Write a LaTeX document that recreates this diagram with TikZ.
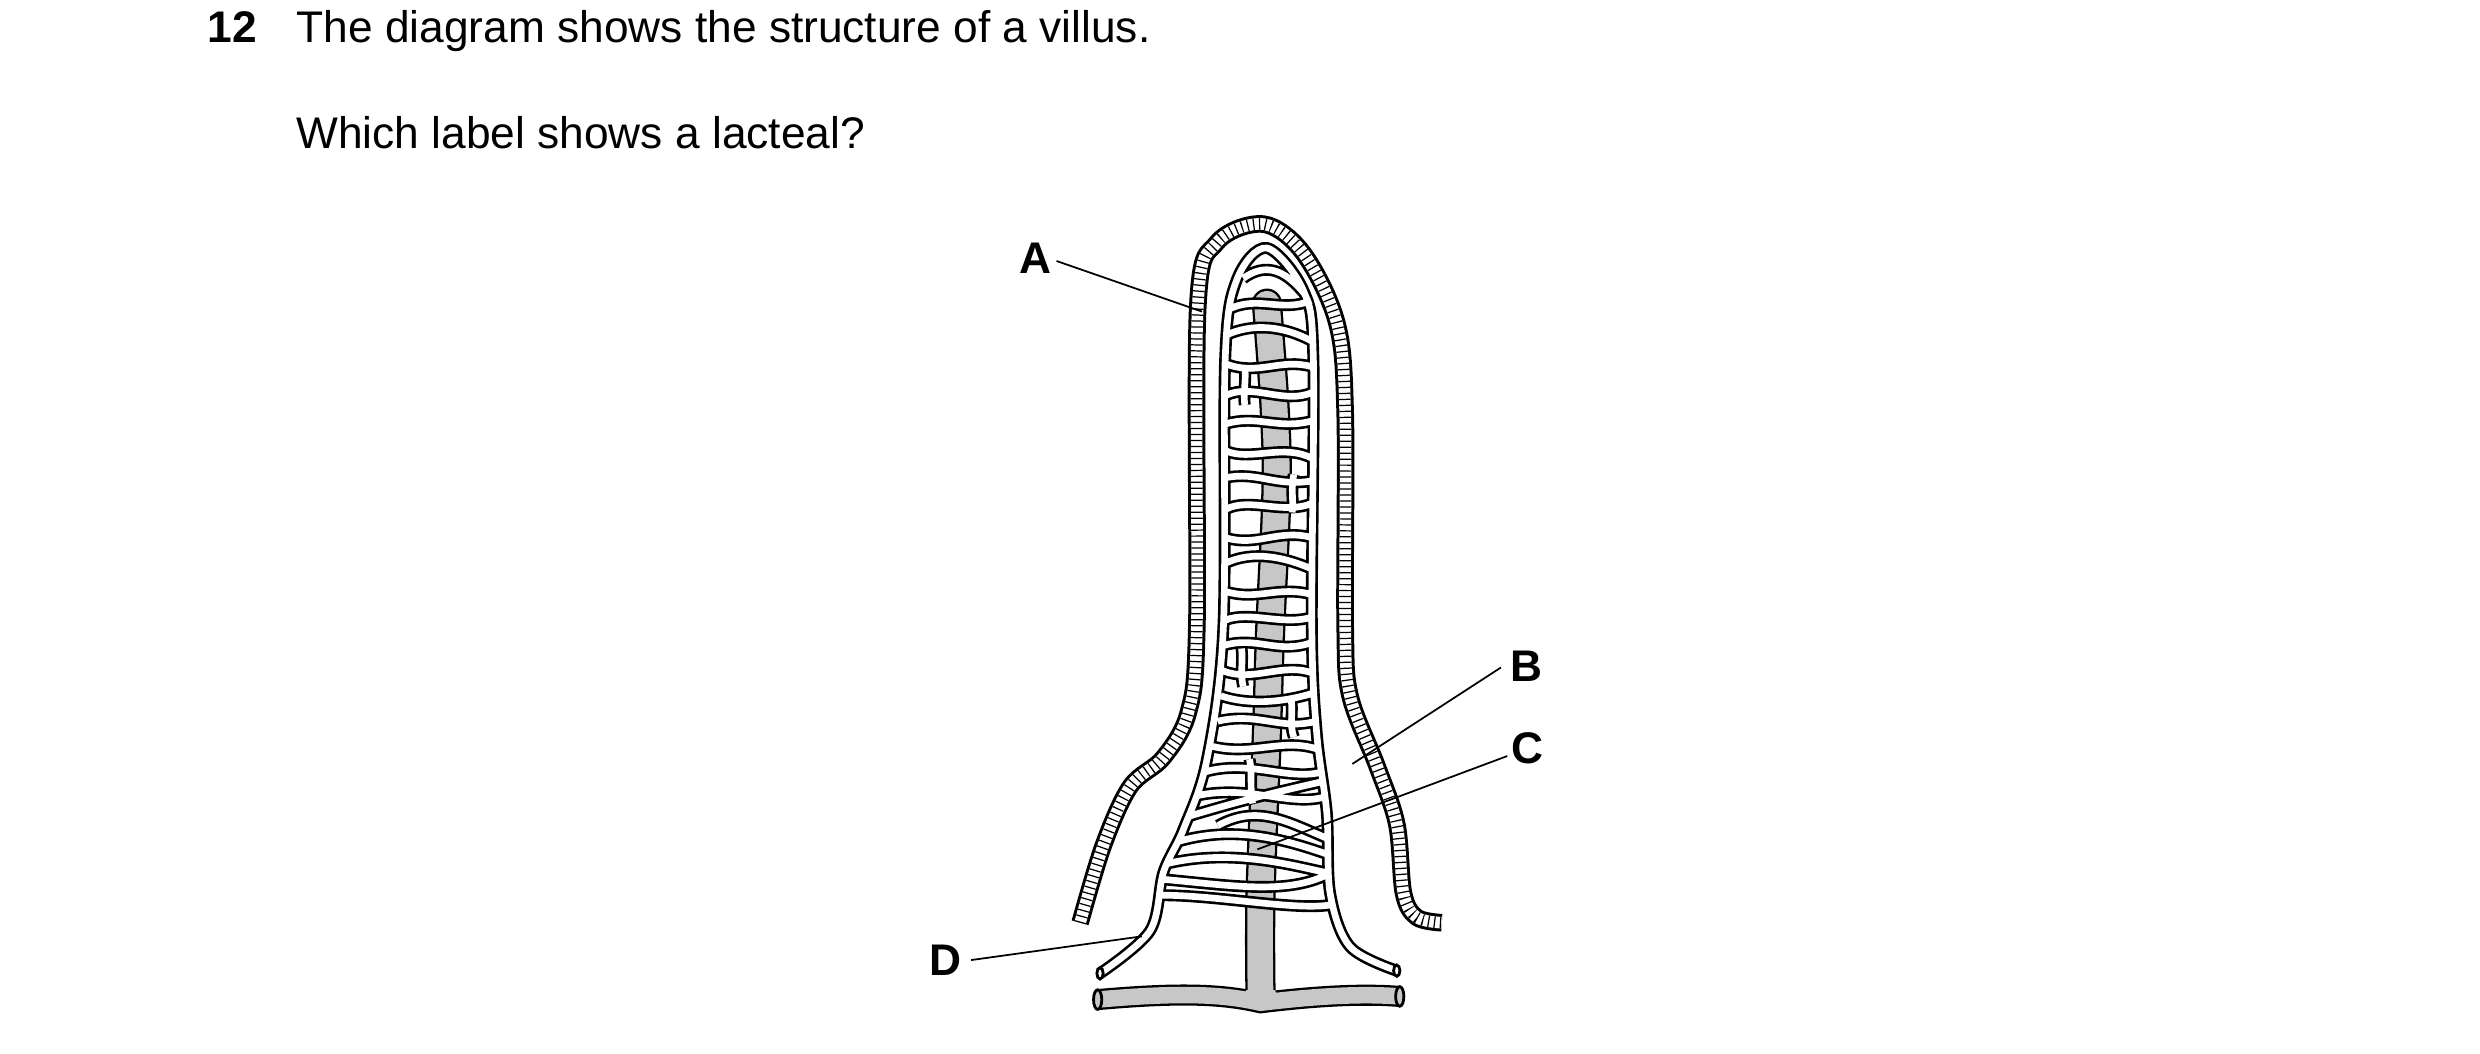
\documentclass[tikz,border=0pt]{standalone}
\usepackage{fontspec}
\setmainfont{Liberation Sans}
\begin{document}
\begin{tikzpicture}[x=0.15816mm,y=-0.15816mm,
  lab/.style={font=\fontsize{12.6}{14}\selectfont\bfseries,inner sep=1pt},
  txt/.style={font=\fontsize{12.6}{14}\selectfont,anchor=base west,inner sep=0pt},
  ptr/.style={line width=0.5pt}]
\definecolor{lg}{gray}{0.78}
\useasboundingbox (0,0) rectangle (1568,666);
% text
\node[txt,font=\fontsize{12.6}{14}\selectfont\bfseries] (num) at (131,27) {12};
\node[txt] (t1) at (187,27) {The diagram shows the structure of a villus.};
\node[txt] (t2) at (187,94) {Which label shows a lacteal?};
% epithelium band
\def\epi{plot[smooth,tension=0.55] coordinates {(682.9,583.4)(697.6,534.5)(714.5,497.4)(735.6,478.9)(751.4,450.2)(756.7,396.3)(757.3,194)(769.3,153.5)(798.8,141.7)(824.1,160.2)(845.2,204.1)(850.5,261.4)(850.5,396.3)(853.6,440.1)(870.5,484)(883.1,521)(887.4,564.9)(895.8,580)(911.6,583.4)}}
\draw[line width=5pt] \epi;
\draw[white,line width=3.3pt] \epi;
\draw[line width=3.3pt,dash pattern=on 0.35pt off 1.35pt] \epi;
% lacteal (grey)
\def\trunk{plot[smooth,tension=0.6] coordinates {(801,192)(806,260)(807,312)(803,400)(801,464)(797,565)(797,630)}}
\def\tube{(694,632) .. controls (750,627) and (775,629) .. (797,634) .. controls (830,630) and (860,628) .. (885,630)}
\draw[line width=8.6pt,line cap=round] \trunk;
\draw[line width=6pt] \tube;
\draw[lg,line width=7.3pt,line cap=round] \trunk;
\draw[lg,line width=4.7pt] \tube;
\fill[lg] (788,626) .. controls (788,629) and (782,630) .. (776,630) -- (818,630) .. controls (812,630) and (806,629) .. (806,626) -- cycle;
\draw[fill=lg,line width=0.8pt] (694,632) ellipse (2.6 and 6.2);
\draw[fill=lg,line width=0.8pt] (885,630) ellipse (2.6 and 6.2);
% capillary loop and network
\def\net{plot[smooth,tension=0.55] coordinates {(695.5,615.4)(727.1,588.5)(735.6,551.4)(748.2,524.4)(763,480.6)(773.5,396.3)(774.6,227.7)(781.9,177.1)(800.9,156.8)(824.1,183.8)(830.4,227.7)(829.4,396.3)(832.5,463.7)(838.9,514.3)(841,564.9)(853.6,598.6)(883.1,613.7)}
 (786,176) .. controls (800,166) and (812,170) .. (825,186)
 (776,196) .. controls (795,186) and (810,198) .. (829,190)
 (775,212) .. controls (792,204) and (812,206) .. (830,216)
 (775,230) .. controls (795,238) and (810,226) .. (830,232)
 (775,250) .. controls (792,242) and (812,256) .. (830,248)
 (775,268) .. controls (795,262) and (808,272) .. (830,266)
 (775,285) .. controls (790,292) and (812,280) .. (830,290)
 (775,302) .. controls (796,298) and (806,308) .. (830,304)
 (775,322) .. controls (790,314) and (812,326) .. (830,318)
 (775,340) .. controls (795,346) and (808,334) .. (830,340)
 (775,356) .. controls (792,348) and (812,352) .. (830,360)
 (775,374) .. controls (795,380) and (808,370) .. (830,376)
 (775,392) .. controls (790,386) and (812,396) .. (830,390)
 (774,408) .. controls (795,402) and (808,414) .. (830,406)
 (773,424) .. controls (792,432) and (812,418) .. (831,426)
 (772,440) .. controls (790,446) and (812,444) .. (831,438)
 (770,456) .. controls (795,450) and (810,462) .. (832,456)
 (767,472) .. controls (792,478) and (812,466) .. (834,474)
 (762,488) .. controls (790,480) and (815,494) .. (836,488)
 (757,503) .. controls (790,496) and (815,510) .. (837,504)
 (752,516) .. controls (785,506) and (810,500) .. (837,494)
 (770,522) .. controls (795,508) and (815,520) .. (839,530)
 (745,532) .. controls (780,522) and (810,530) .. (839,540)
 (738,546) .. controls (780,536) and (820,548) .. (840,552)
 (736,556) .. controls (780,560) and (815,566) .. (841,552)
 (735,566) .. controls (770,566) and (820,576) .. (842,572)
 (787,232) .. controls (788,240) and (786,248) .. (787,256)
 (818,300) .. controls (816,310) and (818,316) .. (817,324)
 (785,410) .. controls (786,418) and (784,426) .. (786,434)
 (816,440) .. controls (818,450) and (815,458) .. (818,466)
 (790,480) .. controls (792,490) and (790,498) .. (792,508)}
\draw[line width=3.4pt] \net;
\draw[white,line width=1.9pt] \net;
\draw[fill=white,line width=0.8pt] (695.5,615.4) ellipse (2 and 3.6);
\draw[fill=white,line width=0.8pt] (883.1,613.7) ellipse (2 and 3.6);
% labels
\node[lab] (A) at (655,163) {A};
\node[lab] (B) at (965,421) {B};
\node[lab] (C) at (966,473) {C};
\node[lab] (D) at (598,607) {D};
\coordinate (a) at (760,197);
\coordinate (b) at (855,483);
\coordinate (c) at (795,537);
\coordinate (d) at (722,592);
\draw[ptr] (668,165) -- (a);
\draw[ptr] (949,422) -- (b);
\draw[ptr] (953,478) -- (c);
\draw[ptr] (614,607) -- (d);
\end{tikzpicture}
\end{document}
